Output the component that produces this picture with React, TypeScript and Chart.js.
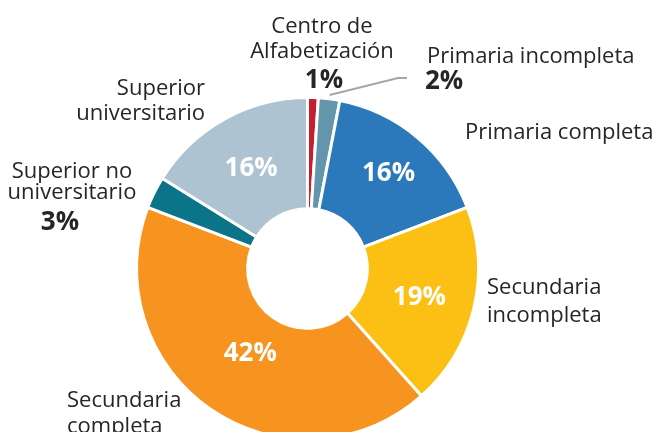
import React, { useEffect, useRef } from 'react';
import { Chart, registerables } from 'chart.js';

Chart.register(...registerables);

// ---- Data ----
const categories = [
  'Centro de Alfabetización',
  'Primaria incompleta',
  'Primaria completa',
  'Secundaria incompleta',
  'Secundaria completa',
  'Superior no universitario',
  'Superior universitario',
];
const shares = [1, 2, 16, 19, 42, 3, 16];
const percentLabels = ['1%', '2%', '16%', '19%', '42%', '3%', '16%'];
const sliceColors = ['#c41f2e', '#6396ad', '#2b78ba', '#fcc015', '#f7941f', '#0c7489', '#adc3d1'];

// ---- Label layout (relative to the doughnut centre) ----
type OutsideLabel = {
  x: number;
  align: CanvasTextAlign;
  lines: string[];
  baselines: number[];
  pct?: { x: number; baseline: number; align: CanvasTextAlign };
  insideR?: number; // fraction of outer radius for white inside percentage
};
const LAYOUT: OutsideLabel[] = [
  { x: 14.5, align: 'center', lines: ['Centro de', 'Alfabetización'], baselines: [-235.5, -210.5], pct: { x: 16.5, baseline: -180.5, align: 'center' } },
  { x: 119.5, align: 'left', lines: ['Primaria incompleta'], baselines: [-205.5], pct: { x: 117.5, baseline: -179.5, align: 'left' } },
  { x: 157.5, align: 'left', lines: ['Primaria completa'], baselines: [-129.5], insideR: 0.737 },
  { x: 179.5, align: 'left', lines: ['Secundaria', 'incompleta'], baselines: [25.5, 53.5], insideR: 0.673 },
  { x: -240.5, align: 'left', lines: ['Secundaria', 'completa'], baselines: [138.5, 164.5], insideR: 0.59 },
  { x: -235.5, align: 'center', lines: ['Superior no', 'universitario'], baselines: [-90.5, -69.5], pct: { x: -247.5, baseline: -38.5, align: 'center' } },
  { x: -102.5, align: 'right', lines: ['Superior', 'universitario'], baselines: [-173.5, -148.5], insideR: 0.678 },
];

const TEXT_FONT = '22px "Open Sans", "DejaVu Sans", sans-serif';
const PCT_FONT = 'bold 26px "Open Sans", "DejaVu Sans", sans-serif';
const TEXT_COLOR = '#262626';

const labelPlugin = {
  id: 'customLabels',
  afterDatasetsDraw(chart: any) {
    const ctx: CanvasRenderingContext2D = chart.ctx;
    const meta = chart.getDatasetMeta(0);
    const first: any = meta.data[0];
    const cx = first.x;
    const cy = first.y;
    ctx.save();

    // leader line for "Primaria incompleta"
    const a1: any = meta.data[1];
    const mid1 = (a1.startAngle + a1.endAngle) / 2;
    const r1 = a1.outerRadius + 4;
    ctx.strokeStyle = '#a6a6a6';
    ctx.lineWidth = 2;
    ctx.beginPath();
    ctx.moveTo(cx + Math.cos(mid1) * r1, cy + Math.sin(mid1) * r1);
    ctx.lineTo(cx + 90.5, cy - 190.5);
    ctx.lineTo(cx + 99.5, cy - 190.5);
    ctx.stroke();

    meta.data.forEach((arc: any, i: number) => {
      const L = LAYOUT[i];
      ctx.font = TEXT_FONT;
      ctx.fillStyle = TEXT_COLOR;
      ctx.textAlign = L.align;
      ctx.textBaseline = 'alphabetic';
      L.lines.forEach((line, j) => {
        ctx.fillText(line, cx + L.x, cy + L.baselines[j]);
      });
      if (L.pct) {
        ctx.font = PCT_FONT;
        ctx.textAlign = L.pct.align;
        ctx.fillText(percentLabels[i], cx + L.pct.x, cy + L.pct.baseline);
      }
      if (L.insideR) {
        const mid = (arc.startAngle + arc.endAngle) / 2;
        const r = arc.outerRadius * L.insideR;
        ctx.font = PCT_FONT;
        ctx.fillStyle = '#ffffff';
        ctx.textAlign = 'center';
        ctx.fillText(percentLabels[i], cx + Math.cos(mid) * r, cy + Math.sin(mid) * r + 9.3);
      }
    });
    ctx.restore();
  },
};

export default function App() {
  const ref = useRef<HTMLCanvasElement | null>(null);
  useEffect(() => {
    if (!ref.current) return;
    const chart = new Chart(ref.current, {
      type: 'doughnut',
      data: {
        labels: categories,
        datasets: [
          {
            data: shares,
            backgroundColor: sliceColors,
            borderColor: '#ffffff',
            borderWidth: 3,
          },
        ],
      },
      options: {
        responsive: false,
        animation: false,
        cutout: '35%',
        layout: { padding: { left: 135, top: 96, right: 177, bottom: 95 } },
        plugins: {
          legend: { display: false },
          tooltip: { enabled: false },
        },
      },
      plugins: [labelPlugin],
    });
    return () => chart.destroy();
  }, []);
  return (
    <div style={{ position: 'fixed', left: 0, top: 0, width: 657, height: 432, overflow: 'hidden', background: '#ffffff' }}>
      <canvas ref={ref} width={657} height={536} style={{ display: 'block', width: 657, height: 536 }} />
    </div>
  );
}
